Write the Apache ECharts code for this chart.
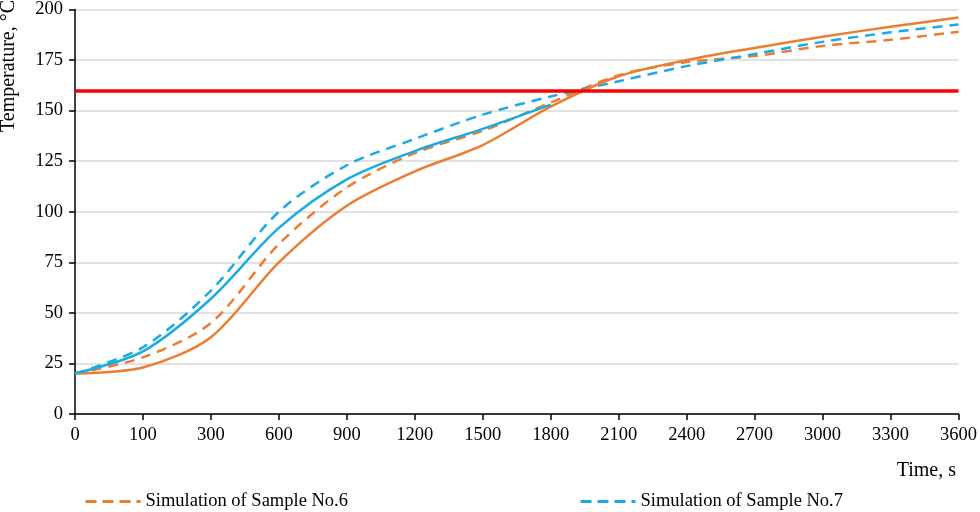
<!DOCTYPE html>
<html>
<head>
<meta charset="utf-8">
<script src="https://cdn.jsdelivr.net/npm/echarts@6/dist/echarts.min.js"></script>
<style>html,body{margin:0;padding:0;background:#fff}#c{width:980px;height:512px}</style>
</head>
<body>
<div id="c"></div>
<script>
var categories = ['0','100','300','600','900','1200','1500','1800','2100','2400','2700','3000','3300','3600'];
var expSample6 = [20, 23, 38, 75, 103, 120, 133, 152, 167, 175, 181, 186.5, 191.5, 196];
var simSample6 = [20, 28, 45, 84, 112, 129, 140, 154, 167.5, 174, 177, 182, 185, 189];
var simSample7 = [20, 33, 61, 100, 123, 136, 148, 157, 164.5, 172, 178, 184, 188.7, 192.6];
var expSample7 = [20, 31, 57, 92, 116, 130, 141, 153, null, null, null, null, null, null];
var criticalTemp = 160;
var yTicks = {min: 0, max: 200, interval: 25};

var ORANGE = '#ED7D31', BLUE = '#1AABE6', RED = '#FF0000';
var font = 'Liberation Serif';
var legendCommon = {
  top: 487, itemWidth: 55, itemHeight: 14, itemGap: 5,
  itemStyle: {opacity: 0},
  lineStyle: {width: 3, type: [11, 6]},
  textStyle: {fontFamily: font, fontSize: 18.5, color: '#000'}
};
var chart = echarts.init(document.getElementById('c'));
chart.setOption({
  animation: false,
  grid: {left: 75, right: 18, top: 6, bottom: 98, containLabel: false},
  legend: [
    Object.assign({data: ['Simulation of Sample No.6'], left: 79}, legendCommon),
    Object.assign({data: ['Simulation of Sample No.7'], left: 574}, legendCommon)
  ],
  xAxis: {
    type: 'category', data: categories, boundaryGap: false,
    axisLine: {lineStyle: {color: '#000', width: 1.5}},
    axisTick: {show: true, length: 6, alignWithLabel: true, lineStyle: {color: '#000', width: 1.5}},
    axisLabel: {fontFamily: font, fontSize: 18.5, color: '#000', margin: 12, interval: 0},
    splitLine: {show: false}
  },
  yAxis: {
    type: 'value', min: yTicks.min, max: yTicks.max, interval: yTicks.interval,
    axisLine: {show: true, lineStyle: {color: '#000', width: 1.5}},
    axisTick: {show: true, length: 6, lineStyle: {color: '#000', width: 1.5}},
    axisLabel: {fontFamily: font, fontSize: 18.5, color: '#000', margin: 12},
    splitLine: {show: true, lineStyle: {color: '#D9D9D9', width: 1.5}}
  },
  graphic: [{
    type: 'text', x: 9, y: 66, rotation: Math.PI / 2,
    style: {text: 'Temperature, \u00B0C', fontFamily: font, fontSize: 20, fill: '#000', align: 'center', verticalAlign: 'middle'}
  }, {
    type: 'text', right: 24, top: 461,
    style: {text: 'Time, s', fontFamily: font, fontSize: 20, fill: '#000'}
  }],
  series: [{
    name: 'Experiment of Sample No.6', type: 'line', data: expSample6, smooth: 0.3, symbol: 'none',
    lineStyle: {color: ORANGE, width: 2.5}, itemStyle: {color: ORANGE}, z: 3,
    markLine: {silent: true, symbol: 'none', label: {show: false},
      lineStyle: {color: RED, width: 3.5, type: 'solid'}, data: [{yAxis: criticalTemp}]}
  }, {
    name: 'Simulation of Sample No.6', type: 'line', data: simSample6, smooth: 0.3, symbol: 'none',
    lineStyle: {color: ORANGE, width: 2.5, type: [10, 7]}, itemStyle: {color: ORANGE}, z: 2
  }, {
    name: 'Experiment of Sample No.7', type: 'line', data: expSample7, smooth: 0.3, symbol: 'none',
    lineStyle: {color: BLUE, width: 2.5}, itemStyle: {color: BLUE}, z: 3
  }, {
    name: 'Simulation of Sample No.7', type: 'line', data: simSample7, smooth: 0.3, symbol: 'none',
    lineStyle: {color: BLUE, width: 2.5, type: [10, 7]}, itemStyle: {color: BLUE}, z: 2
  }]
});
</script>
</body>
</html>
